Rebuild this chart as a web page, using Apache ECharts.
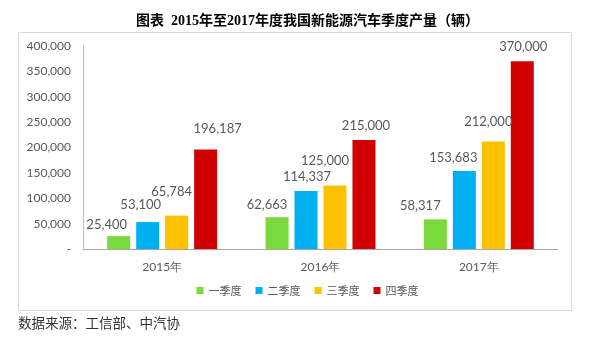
<!DOCTYPE html>
<html>
<head>
<meta charset="utf-8">
<script src="https://cdn.jsdelivr.net/npm/echarts@6/dist/echarts.min.js"></script>
<style>html,body{margin:0;padding:0;background:#fff}#c{width:615px;height:357px}</style>
</head>
<body>
<div id="c"></div>
<script>
const categories = ['2015年', '2016年', '2017年'];
const seriesNames = ['一季度', '二季度', '三季度', '四季度'];
const q1 = [25400, 62663, 58317];
const q2 = [53100, 114337, 153683];
const q3 = [65784, 125000, 212000];
const q4 = [196187, 215000, 370000];
const yTicks = { min: 0, max: 400000, interval: 50000 };
const titleText = '图表  2015年至2017年度我国新能源汽车季度产量（辆）';
const sourceText = '数据来源：工信部、中汽协';

// style: colours and label nudges (label placement only)
const colors = ['#7AD93C', '#00B0F0', '#FFC000', '#D00000'];
const labelNudge = [
  [[-12, 0], [-10, -1], [-15, -2]],
  [[-7, -6], [1, -3], [-11, -2]],
  [[-5, -12], [-10, -13], [-5, -8]],
  [[12, -9], [2, -3], [1, -3]]
];

const values = [q1, q2, q3, q4];
const fmt = v => v === 0 ? '-' : v.toLocaleString('en-US');
const serif = '"Liberation Serif", "Noto Sans CJK SC", serif';
const sans = '"Noto Sans CJK SC", "Noto Sans", sans-serif';
const num = 'Lato, "Open Sans", sans-serif';

const series = values.map((arr, si) => ({
  name: seriesNames[si],
  type: 'bar',
  barWidth: 23,
  barGap: '26%',
  itemStyle: { color: colors[si] },
  data: arr.map((v, ci) => ({
    value: v,
    label: { offset: labelNudge[si][ci] }
  })),
  label: {
    show: true,
    position: 'top',
    distance: 5,
    color: '#595959',
    fontSize: 13,
    fontFamily: num,
    formatter: p => fmt(p.value)
  }
}));

const chart = echarts.init(document.getElementById('c'));
chart.setOption({
  animation: false,
  backgroundColor: '#fff',
  title: {
    text: titleText,
    left: 'center',
    top: 9,
    textStyle: { fontFamily: serif, fontWeight: 'bold', fontSize: 14, color: '#000' }
  },
  graphic: [
    { type: 'rect', shape: { x: 18.5, y: 32.5, width: 553, height: 278 },
      style: { fill: 'none', stroke: '#D9D9D9', lineWidth: 1 }, z: -1 },
    { type: 'text', left: 18, top: 318,
      style: { text: sourceText, font: '13.5px ' + serif, fill: '#333' } }
  ],
  legend: {
    bottom: 56,
    left: 'center',
    itemWidth: 7,
    itemHeight: 7,
    itemGap: 14,
    icon: 'rect',
    textStyle: { color: '#595959', fontSize: 11, fontFamily: sans },
    data: seriesNames
  },
  grid: { left: 83, right: 57, top: 46, bottom: 108 },
  xAxis: {
    type: 'category',
    data: categories,
    axisLine: { lineStyle: { color: '#A6A6A6', width: 1 } },
    axisTick: { show: false },
    axisLabel: { color: '#595959', fontSize: 12, margin: 12, fontFamily: num }
  },
  yAxis: {
    type: 'value',
    min: yTicks.min,
    max: yTicks.max,
    interval: yTicks.interval,
    axisLine: { show: true, lineStyle: { color: '#BFBFBF' } },
    axisTick: { show: false },
    splitLine: { show: false },
    axisLabel: { color: '#595959', fontSize: 12, margin: 12,
      fontFamily: num, formatter: fmt }
  },
  series: series
});
</script>
</body>
</html>
